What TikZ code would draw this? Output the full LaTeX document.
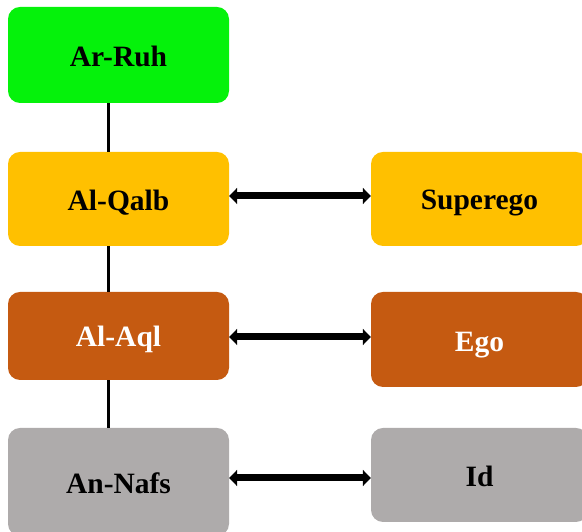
\documentclass[tikz,border=0pt]{standalone}
\usepackage{fontspec}
\setmainfont{Liberation Serif}
\usetikzlibrary{arrows.meta}
\definecolor{cgreen}{HTML}{05F20B}
\definecolor{corange}{HTML}{FFC000}
\definecolor{cbrown}{HTML}{C55A11}
\definecolor{cgray}{HTML}{AEABAB}
\tikzset{
  box/.style={rounded corners=12pt, inner sep=0pt, font=\fontsize{29.5}{32}\selectfont\bfseries, text=black, text height=26pt, text depth=2pt},
  link/.style={line width=3pt, draw=black},
  dbl/.style={line width=7pt, draw=black, {Triangle[length=8pt,width=16pt]}-{Triangle[length=8pt,width=16pt]}}
}
\begin{document}
\begin{tikzpicture}[x=1pt,y=1pt]
\useasboundingbox (0,0) rectangle (582,532);
\clip (0,0) rectangle (582,532);
\node[box, fill=cgreen, minimum width=221pt, minimum height=96pt] (ruh) at (118.5,477) {Ar-Ruh};
\node[box, fill=corange, minimum width=221pt, minimum height=94pt] (qalb) at (118.5,333) {Al-Qalb};
\node[box, fill=corange, minimum width=217pt, minimum height=94pt, text height=23pt] (superego) at (479.5,333) {Superego};
\node[box, fill=cbrown, text=white, minimum width=221pt, minimum height=88pt, text height=24pt] (aql) at (118.5,196) {Al-Aql};
\node[box, fill=cbrown, text=white, minimum width=217pt, minimum height=95pt] (ego) at (479.5,192.5) {Ego};
\node[box, fill=cgray, minimum width=221pt, minimum height=108pt] (nafs) at (118.5,50) {An-Nafs};
\node[box, fill=cgray, minimum width=217pt, minimum height=94pt] (id) at (479.5,57) {Id};
\coordinate (lx) at (108,0);
\draw[link] (ruh.south -| lx) -- (qalb.north -| lx);
\draw[link] (qalb.south -| lx) -- (aql.north -| lx);
\draw[link] (aql.south -| lx) -- (nafs.north -| lx);
\draw[dbl] ([yshift=3pt]qalb.east) -- ([yshift=3pt]qalb.east -| superego.west);
\draw[dbl] ([yshift=-1pt]aql.east) -- ([yshift=-1pt]aql.east -| ego.west);
\draw[dbl] ([yshift=-3pt]id.west -| nafs.east) -- ([yshift=-3pt]id.west);
\end{tikzpicture}
\end{document}
